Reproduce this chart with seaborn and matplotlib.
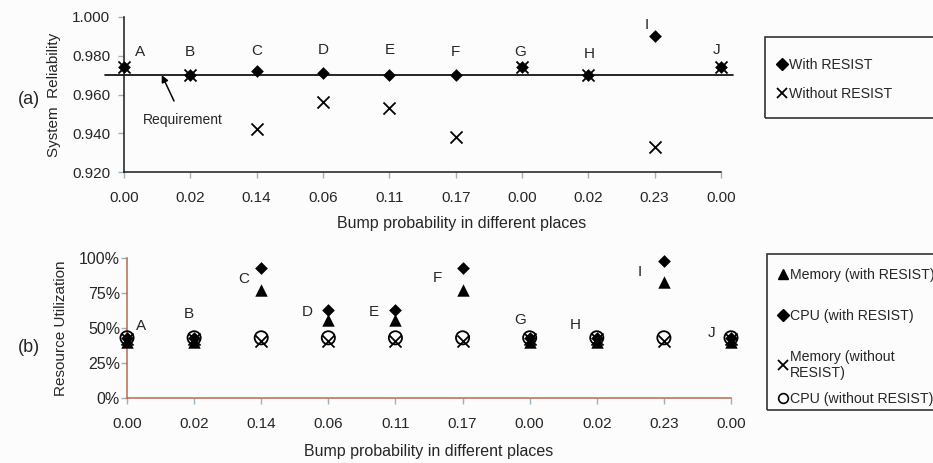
import matplotlib
matplotlib.use("Agg")
import matplotlib.pyplot as plt
import seaborn as sns
import pandas as pd
from matplotlib.lines import Line2D
from matplotlib.patches import Rectangle

# ---------------- data ----------------
places = ["A", "B", "C", "D", "E", "F", "G", "H", "I", "J"]
bump_prob = ["0.00", "0.02", "0.14", "0.06", "0.11", "0.17", "0.00", "0.02", "0.23", "0.00"]

rel_with = [0.974, 0.970, 0.972, 0.971, 0.970, 0.970, 0.974, 0.970, 0.990, 0.974]
rel_without = [0.974, 0.970, 0.942, 0.956, 0.953, 0.938, 0.974, 0.970, 0.933, 0.974]
requirement = 0.970

mem_with = [0.40, 0.40, 0.77, 0.56, 0.56, 0.77, 0.40, 0.40, 0.83, 0.40]
cpu_with = [0.43, 0.43, 0.93, 0.63, 0.63, 0.93, 0.43, 0.43, 0.98, 0.43]
mem_without = [0.42, 0.42, 0.41, 0.41, 0.41, 0.41, 0.42, 0.42, 0.41, 0.42]
cpu_without = [0.43, 0.43, 0.43, 0.43, 0.43, 0.43, 0.43, 0.43, 0.43, 0.43]

rel_yticks = [0.920, 0.940, 0.960, 0.980, 1.000]
util_yticks = [0.0, 0.25, 0.5, 0.75, 1.0]
util_yticklabels = ["0%", "25%", "50%", "75%", "100%"]

# label offsets in pixels (layout)
top_label_off = [(16, 15), (-1, 23), (0, 20), (0, 23), (0, 25), (0, 23), (-2, 15), (1, 21), (-8, 11), (-4, 17)]
bot_label_off = [(14, 12), (-5, 24), (-17, -11), (-21, -2), (-22, -2), (-25, -10), (-10, 18), (-22, 13), (-24, -11), (-19, 5)]

# ---------------- style ----------------
sns.set_theme(style="white")
plt.rcParams["font.family"] = ["Liberation Sans", "DejaVu Sans"]
FS = 11
LFS = 10.2

W, H = 933, 463
fig = plt.figure(figsize=(W / 100, H / 100), dpi=100)
fig.patch.set_facecolor("#fcfcfd")

def px_axes(l, t, r, b):
    return fig.add_axes([l / W, 1 - b / H, (r - l) / W, (b - t) / H])

x = list(range(len(places)))
df_top = pd.DataFrame({"x": x, "with": rel_with, "without": rel_without})
df_bot = pd.DataFrame({"x": x, "mw": mem_with, "cw": cpu_with, "mwo": mem_without, "cwo": cpu_without})

# ---------------- panel (a) ----------------
ax1 = px_axes(124, 17, 721, 172)
ax1.set_facecolor("none")
sns.scatterplot(data=df_top, x="x", y="without", marker="x", color="black", s=75,
                linewidth=1.3, ax=ax1, clip_on=False, zorder=3)
sns.scatterplot(data=df_top, x="x", y="with", marker="D", color="black", s=42,
                linewidth=0, ax=ax1, clip_on=False, zorder=4)
ax1.plot([-0.29, 9.18], [requirement, requirement], color="black", lw=1.2, clip_on=False, zorder=2)
ax1.set_xlim(0, 9)
ax1.set_ylim(0.92, 1.0)
ax1.set_yticks(rel_yticks)
ax1.set_yticklabels([f"{v:.3f}" for v in rel_yticks], fontsize=FS)
ax1.set_xticks(x)
ax1.set_xticklabels(bump_prob, fontsize=FS)
ax1.set_xlabel("Bump probability in different places", fontsize=11.5)
ax1.xaxis.set_label_coords(0.565, -0.335)
ax1.xaxis.label.set_va("center")
ax1.set_ylabel("System  Reliability", fontsize=FS, labelpad=8)
for i, lab in enumerate(places):
    ax1.annotate(lab, (x[i], rel_with[i]), xytext=top_label_off[i], textcoords="offset pixels",
                 ha="center", va="center", fontsize=FS)
ax1.annotate("Requirement", xy=(0.57, requirement), xytext=(0.89, 0.9468),
             ha="center", va="center", fontsize=10,
             arrowprops=dict(arrowstyle="-|>", color="black", lw=1.1, mutation_scale=10,
                             shrinkA=7, shrinkB=0))

# ---------------- panel (b) ----------------
ax2 = px_axes(127, 258, 731, 398)
ax2.set_facecolor("none")
sns.scatterplot(data=df_bot, x="x", y="mwo", marker="x", color="black", s=75,
                linewidth=1.3, ax=ax2, clip_on=False, zorder=3)
ax2.scatter(df_bot["x"], df_bot["cwo"], marker="o", s=90, facecolors="none",
            edgecolors="black", linewidths=1.3, clip_on=False, zorder=3)
sns.scatterplot(data=df_bot, x="x", y="mw", marker="^", color="black", s=80,
                linewidth=0, ax=ax2, clip_on=False, zorder=4)
sns.scatterplot(data=df_bot, x="x", y="cw", marker="D", color="black", s=42,
                linewidth=0, ax=ax2, clip_on=False, zorder=4)
ax2.set_xlim(0, 9)
ax2.set_ylim(0, 1.0)
ax2.set_yticks(util_yticks)
ax2.set_yticklabels(util_yticklabels, fontsize=11.5)
ax2.set_xticks(x)
ax2.set_xticklabels(bump_prob, fontsize=FS)
ax2.set_xlabel("Bump probability in different places", fontsize=11.5)
ax2.xaxis.set_label_coords(0.5, -0.385)
ax2.xaxis.label.set_va("center")
ax2.set_ylabel("Resource Utilization", fontsize=FS, labelpad=8)
for i, lab in enumerate(places):
    ax2.annotate(lab, (x[i], cpu_with[i]), xytext=bot_label_off[i], textcoords="offset pixels",
                 ha="center", va="center", fontsize=FS)

for ax, spc in ((ax1, "#1a1a1a"), (ax2, "#b86a4c")):
    for s in ("top", "right"):
        ax.spines[s].set_visible(False)
    for s in ("left", "bottom"):
        ax.spines[s].set_color(spc)
        ax.spines[s].set_linewidth(1.1)
    ax.tick_params(axis="both", direction="out", length=4, width=1, color="#9ab0c0",
                   bottom=True, left=True)
    ax.tick_params(axis="x", pad=10)
ax1.tick_params(axis="y", pad=6)
ax2.tick_params(axis="y", pad=1)

fig.text(18 / W, 1 - 100 / H, "(a)", fontsize=13, ha="left", va="center")
fig.text(18 / W, 1 - 347 / H, "(b)", fontsize=13, ha="left", va="center")

# ---------------- legends ----------------
fig.add_artist(Rectangle((765 / W, 1 - 118 / H), 200 / W, 81 / H, transform=fig.transFigure,
                         fill=False, edgecolor="#333333", lw=1.2))
h_top = [Line2D([], [], ls="none", marker="D", color="black", markersize=6),
         Line2D([], [], ls="none", marker="x", color="black", markersize=7, mew=1.3)]
fig.legend(h_top, ["With RESIST", "Without RESIST"], loc="upper left",
           bbox_to_anchor=(778 / W, 1 - 58 / H), frameon=False, fontsize=LFS,
           handlelength=0.6, handletextpad=0.2, labelspacing=1.05, borderpad=0, borderaxespad=0)

fig.add_artist(Rectangle((767 / W, 1 - 410 / H), 200 / W, 156 / H, transform=fig.transFigure,
                         fill=False, edgecolor="#333333", lw=1.2))
h_bot = [Line2D([], [], ls="none", marker="^", color="black", markersize=7),
         Line2D([], [], ls="none", marker="D", color="black", markersize=6),
         Line2D([], [], ls="none", marker="x", color="black", markersize=7, mew=1.3)]
leg_b1 = fig.legend(h_bot, ["Memory (with RESIST)", "CPU (with RESIST)", "Memory (without\nRESIST)"],
                    loc="upper left", bbox_to_anchor=(779 / W, 1 - 268 / H), frameon=False,
                    fontsize=LFS, handlelength=0.6, handletextpad=0.2, labelspacing=1.9,
                    borderpad=0, borderaxespad=0)
h_bot2 = [Line2D([], [], ls="none", marker="o", mfc="none", mec="black", markersize=7, mew=1.2)]
fig.legend(h_bot2, ["CPU (without RESIST)"], loc="center left",
           bbox_to_anchor=(779 / W, 1 - 399 / H), frameon=False, fontsize=LFS,
           handlelength=0.6, handletextpad=0.2, borderpad=0, borderaxespad=0)

fig.savefig("out.png", dpi=100, facecolor=fig.get_facecolor())
